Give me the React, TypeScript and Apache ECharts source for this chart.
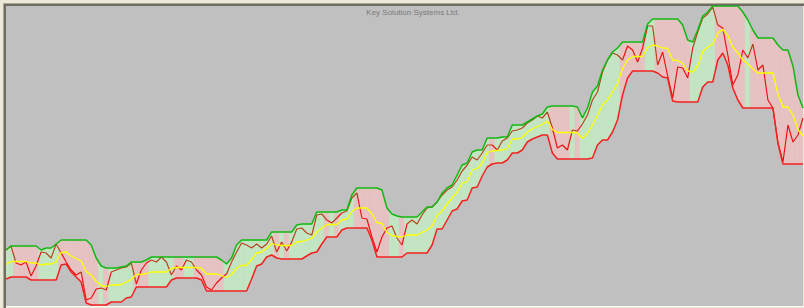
import React, { useEffect, useRef } from "react";
import * as echarts from "echarts";

const titleText = "Key Solution Systems Ltd.";

// Channel (price units)
const upper = [
  60, 64, 64, 64, 64, 64, 64, 60, 62, 62,
  66, 70, 70, 70, 70, 70, 70, 65, 52, 44,
  42, 42, 42, 43, 44, 48, 48, 48, 50, 53,
  53, 53, 53, 53, 53, 53, 53, 53, 53, 53,
  53, 53, 53, 50, 46, 52, 65, 70, 70, 70,
  70, 70, 70, 78, 78, 78, 78, 78, 85, 86,
  86, 86, 98, 98, 98, 98, 98, 100, 100, 115,
  122, 122, 122, 122, 122, 120, 102, 96, 94, 93,
  93, 93, 93, 98, 103, 103, 108, 117, 122, 125,
  135, 145, 147, 158, 160, 160, 172, 172, 172, 173,
  173, 185, 185, 185, 188, 191, 194, 196, 203, 204,
  204, 204, 204, 204, 203, 192, 202, 218, 224, 240,
  250, 258, 262, 268, 268, 268, 268, 268, 286, 291,
  291, 291, 291, 291, 291, 285, 270, 268, 280, 294,
  298, 304, 304, 304, 304, 304, 304, 298, 290, 280,
  272, 272, 272, 272, 265, 260, 260, 244, 215, 202,
];

const lower = [
  31, 33, 33, 33, 33, 30, 30, 30, 30, 30,
  30, 45, 46, 38, 33, 28, 7, 5, 5, 5,
  5, 8, 8, 8, 12, 13, 23, 23, 23, 23,
  23, 23, 23, 30, 32, 32, 32, 32, 32, 30,
  19, 19, 19, 19, 19, 19, 19, 19, 19, 31,
  44, 46, 53, 55, 52, 51, 51, 51, 51, 51,
  54, 57, 58, 66, 73, 73, 73, 80, 82, 82,
  82, 82, 82, 70, 53, 53, 53, 53, 53, 53,
  57, 57, 57, 57, 57, 65, 81, 81, 90, 99,
  101, 109, 110, 122, 123, 134, 143, 146, 147, 147,
  150, 157, 157, 160, 168, 171, 173, 175, 175, 157,
  151, 151, 151, 151, 151, 151, 151, 152, 165, 170,
  170, 178, 190, 215, 232, 239, 239, 239, 239, 239,
  237, 233, 232, 209, 208, 208, 208, 208, 208, 223,
  228, 228, 250, 257, 245, 222, 210, 202, 202, 202,
  202, 202, 202, 202, 167, 146, 146, 146, 146, 146,
];

const mid = [
  45.5, 48.5, 48.5, 48.5, 48.5, 47, 47, 45, 46, 46,
  48, 57.5, 58, 54, 51.5, 49, 38.5, 35, 28.5, 24.5,
  23.5, 25, 25, 25.5, 28, 30.5, 35.5, 35.5, 36.5, 38,
  38, 38, 38, 41.5, 42.5, 42.5, 42.5, 42.5, 42.5, 41.5,
  36, 36, 36, 34.5, 32.5, 35.5, 42, 44.5, 44.5, 50.5,
  57, 58, 61.5, 66.5, 65, 64.5, 64.5, 64.5, 68, 68.5,
  70, 71.5, 78, 82, 85.5, 85.5, 85.5, 90, 91, 98.5,
  102, 102, 102, 96, 87.5, 86.5, 77.5, 74.5, 73.5, 73,
  75, 75, 75, 77.5, 80, 84, 94.5, 99, 106, 112,
  118, 127, 128.5, 140, 141.5, 147, 157.5, 159, 159.5, 160,
  161.5, 171, 171, 172.5, 178, 181, 183.5, 185.5, 189, 180.5,
  177.5, 177.5, 177.5, 177.5, 177, 171.5, 176.5, 185, 194.5, 205,
  210, 218, 226, 241.5, 250, 253.5, 253.5, 253.5, 262.5, 265,
  264, 262, 261.5, 250, 249.5, 246.5, 239, 238, 244, 258.5,
  263, 266, 277, 280.5, 274.5, 263, 257, 250, 246, 241,
  237, 237, 237, 237, 216, 203, 203, 195, 180.5, 174,
];

const price = [
  60, 64, 47, 45, 48, 34, 44, 58, 57, 52,
  66, 57, 48, 40, 35, 38, 10, 12, 21, 22,
  20, 38, 40, 42, 43, 47, 26, 40, 47, 50,
  48, 53, 48, 35, 44, 40, 50, 48, 40, 35,
  23, 20, 27, 32, 36, 48, 58, 67, 65, 62,
  66, 62, 66, 74, 58, 68, 59, 68, 81, 82,
  77, 75, 95, 96, 90, 87, 92, 97, 99, 112,
  117, 92, 91, 73, 58, 73, 82, 84, 72, 65,
  86, 90, 86, 95, 102, 103, 108, 115, 120, 123,
  130, 139, 145, 153, 150, 157, 165, 165, 160, 169,
  172, 179, 180, 182, 187, 190, 194, 192, 198, 182,
  162, 165, 160, 180, 179, 186, 195, 210, 218, 238,
  250, 257, 255, 250, 264, 260, 248, 262, 284, 284,
  245, 258, 234, 212, 243, 242, 232, 262, 278, 292,
  296, 303, 285, 282, 255, 225, 235, 260, 252, 266,
  240, 245, 210, 202, 167, 148, 185, 168, 175, 192,
];

// trend state per bar as coloured in the picture (1 = green / up, 0 = red / down)
const trendUp = [
  1, 1, 0, 0, 0, 0, 0, 1, 1, 1,
  1, 0, 0, 0, 0, 0, 0, 0, 0, 1,
  0, 1, 1, 1, 1, 1, 0, 0, 0, 1,
  1, 1, 1, 1, 0, 0, 1, 1, 0, 0,
  0, 0, 0, 0, 1, 1, 1, 1, 1, 1,
  1, 1, 1, 1, 0, 1, 0, 1, 1, 1,
  1, 1, 1, 1, 0, 1, 0, 1, 1, 1,
  0, 0, 0, 0, 0, 0, 0, 1, 1, 0,
  1, 1, 1, 1, 1, 1, 1, 1, 1, 1,
  1, 1, 1, 1, 1, 1, 1, 0, 1, 1,
  1, 1, 1, 1, 1, 1, 1, 1, 1, 0,
  0, 0, 0, 1, 0, 1, 1, 1, 1, 1,
  1, 1, 1, 0, 0, 0, 0, 0, 1, 1,
  0, 0, 0, 0, 0, 0, 0, 1, 1, 1,
  1, 1, 0, 0, 0, 0, 0, 0, 1, 0,
  0, 0, 0, 0, 0, 0, 0, 0, 0, 0,
];

const categories = price.map((_, i) => `Day ${i + 1}`);

const GREEN_FILL = "#c3e5c3";
const RED_FILL = "#e6c2c2";
const PRICE_UP = "#b8441e";
const PRICE_DOWN = "#ee1212";

export default function App() {
  const ref = useRef<HTMLDivElement>(null);

  useEffect(() => {
    if (!ref.current) return;
    document.body.style.margin = "0";
    const chart = echarts.init(ref.current, null, { renderer: "svg" });
    const n = price.length;

    // runs of "down" state for the price colouring
    const pieces: any[] = [];
    let s = -1;
    for (let i = 0; i < n; i++) {
      if (!trendUp[i]) {
        if (s < 0) s = i;
      } else if (s >= 0) {
        pieces.push({ gte: s - 0.5, lte: i - 1 + 0.5, color: PRICE_DOWN });
        s = -1;
      }
    }
    if (s >= 0) pieces.push({ gte: s - 0.5, lte: n - 1 + 0.5, color: PRICE_DOWN });

    const fillData = price.map((_, i) => [i, lower[i], upper[i], trendUp[i]]);

    const option: any = {
      animation: false,
      backgroundColor: "#ece9d8",
      grid: {
        left: 6,
        right: 1,
        top: 6,
        bottom: 2,
        show: true,
        backgroundColor: "#c0c0c0",
        borderWidth: 0,
      },
      xAxis: {
        type: "category",
        data: categories,
        boundaryGap: false,
        show: false,
      },
      yAxis: {
        type: "value",
        min: 4,
        max: 304,
        show: false,
        splitLine: { show: false },
      },
      visualMap: {
        show: false,
        type: "piecewise",
        dimension: 0,
        seriesIndex: 1,
        pieces,
        outOfRange: { color: PRICE_UP },
      },
      graphic: [
        { type: "line", shape: { x1: 3, y1: 3.5, x2: 804, y2: 3.5 }, style: { stroke: "#aaa797", lineWidth: 1 } },
        { type: "line", shape: { x1: 4, y1: 5, x2: 804, y2: 5 }, style: { stroke: "#6e6d60", lineWidth: 2 } },
        { type: "line", shape: { x1: 3.5, y1: 3, x2: 3.5, y2: 308 }, style: { stroke: "#aaa797", lineWidth: 1 } },
        { type: "line", shape: { x1: 5, y1: 4, x2: 5, y2: 308 }, style: { stroke: "#6e6d60", lineWidth: 2 } },
        { type: "line", shape: { x1: 6, y1: 306.5, x2: 804, y2: 306.5 }, style: { stroke: "#fbfbf4", lineWidth: 1 } },
        {
          type: "text",
          z: 100,
          x: 413,
          y: 12,
          style: {
            text: titleText,
            fill: "#7a7a7a",
            font: "8px 'Liberation Sans', Arial, sans-serif",
            textAlign: "center",
            textVerticalAlign: "middle",
          },
        },
      ],
      series: [
        {
          type: "custom",
          name: "channel",
          z: 1,
          clip: true,
          data: fillData,
          encode: { x: 0, y: [1, 2] },
          renderItem: (params: any, api: any) => {
            const i = params.dataIndex;
            const ip = Math.max(i - 1, 0);
            const inx = Math.min(i + 1, n - 1);
            const a = api.coord([ip, upper[ip]]);
            const b = api.coord([i, upper[i]]);
            const c = api.coord([inx, upper[inx]]);
            const d = api.coord([ip, lower[ip]]);
            const e = api.coord([i, lower[i]]);
            const f = api.coord([inx, lower[inx]]);
            const m = (p: number[], q: number[]) => [(p[0] + q[0]) / 2, (p[1] + q[1]) / 2];
            const col = api.value(3) ? GREEN_FILL : RED_FILL;
            return {
              type: "polygon",
              shape: { points: [m(a, b), b, m(b, c), m(e, f), e, m(d, e)] },
              style: { fill: col, stroke: col, lineWidth: 0.8 },
            };
          },
        },
        {
          type: "line",
          name: "Price",
          z: 3,
          data: price,
          symbol: "none",
          lineStyle: { width: 1.2 },
        },
        {
          type: "line",
          name: "Mid",
          z: 4,
          data: mid,
          symbol: "none",
          lineStyle: { width: 1.3, color: "#ffff00" },
          itemStyle: { color: "#ffff00" },
        },
        {
          type: "line",
          name: "Upper",
          z: 5,
          data: upper,
          symbol: "none",
          lineStyle: { width: 1.5, color: "#10b810" },
          itemStyle: { color: "#10b810" },
        },
        {
          type: "line",
          name: "Lower",
          z: 5,
          data: lower,
          symbol: "none",
          lineStyle: { width: 1.5, color: "#f42020" },
          itemStyle: { color: "#f42020" },
        },
      ],
    };
    chart.setOption(option);
    return () => chart.dispose();
  }, []);

  return (
    <div
      ref={ref}
      style={{ position: "absolute", left: 0, top: 0, width: 804, height: 308 }}
    />
  );
}
